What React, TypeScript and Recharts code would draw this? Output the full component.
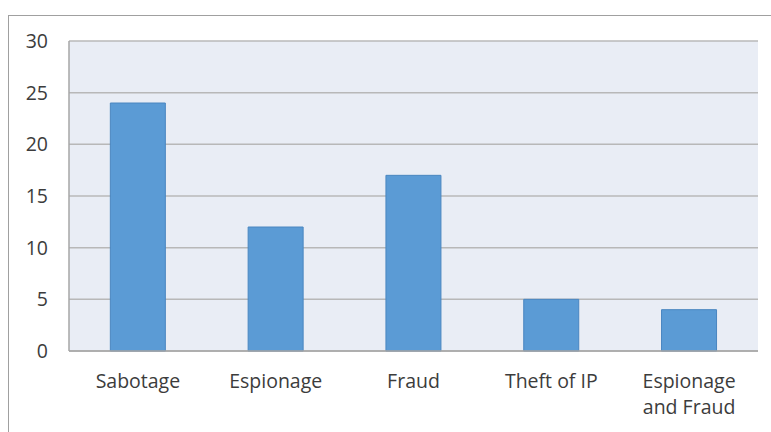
import { Bar, BarChart, CartesianGrid, XAxis, YAxis } from 'recharts'

const categories = ['Sabotage', 'Espionage', 'Fraud', 'Theft of IP', 'Espionage and Fraud']
// how each category label breaks onto lines under the axis
const tickLines = [['Sabotage'], ['Espionage'], ['Fraud'], ['Theft of IP'], ['Espionage', 'and Fraud']]
const counts = [24, 12, 17, 5, 4]
const yTicks = [0, 5, 10, 15, 20, 25, 30]

const data = categories.map((name, i) => ({ name, count: counts[i] }))

const FONT = '"Open Sans", sans-serif'
const INK = '#3c3c3c'

function CategoryTick(props: any) {
  const { x, y, payload, index } = props
  const lines = tickLines[index] ?? [payload.value]
  return (
    <text x={x} y={y} textAnchor="middle" fill={INK} fontSize={19.5} fontFamily={FONT}>
      {lines.map((line: string, i: number) => (
        <tspan key={i} x={x} dy={i === 0 ? '0.71em' : 26}>
          {line}
        </tspan>
      ))}
    </text>
  )
}

export default function App() {
  return (
    <div style={{ position: 'absolute', left: 0, top: 0, width: 771, height: 432, background: '#fff', overflow: 'hidden' }}>
      {/* outer frame, only its left and top edges fall inside the view */}
      <div style={{ position: 'absolute', left: 8, top: 15, width: 800, height: 480, borderLeft: '1px solid #a0a0a0', borderTop: '1px solid #a0a0a0' }} />
      <div style={{ position: 'absolute', left: 0, top: 0 }}>
        <BarChart
          width={771}
          height={432}
          data={data}
          margin={{ top: 41, right: 13, left: 0, bottom: 0 }}
          barCategoryGap="30%"
        >
          <CartesianGrid vertical={false} stroke="#b8b8b8" strokeWidth={1.5} fill="#e9edf5" fillOpacity={1} />
          <XAxis
            dataKey="name"
            height={81}
            axisLine={{ stroke: '#a6a6a6', strokeWidth: 1.5 }}
            tickLine={false}
            tickSize={0}
            tickMargin={23}
            tick={<CategoryTick />}
            interval={0}
          />
          <YAxis
            width={69}
            domain={[0, 30]}
            ticks={yTicks}
            axisLine={{ stroke: '#a6a6a6', strokeWidth: 1.5 }}
            tickLine={false}
            tickSize={0}
            tickMargin={21}
            tick={{ fill: INK, fontSize: 19.5, fontFamily: FONT }}
          />
          <Bar dataKey="count" fill="#5b9bd5" stroke="#4a86c0" strokeWidth={1} isAnimationActive={false} />
        </BarChart>
      </div>
    </div>
  )
}
